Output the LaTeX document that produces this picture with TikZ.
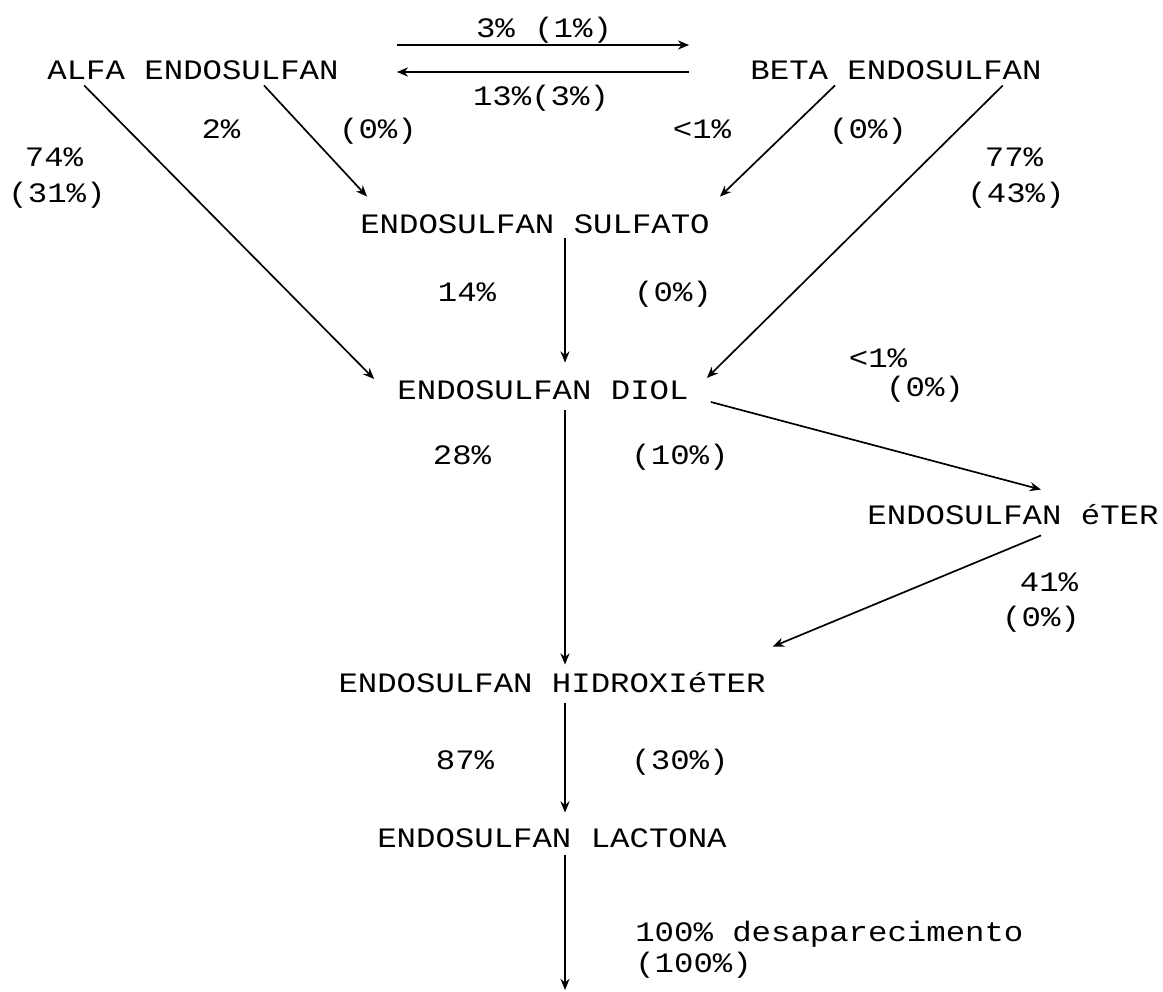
\documentclass[tikz,border=0pt]{standalone}
\usepackage{fontspec}
\setmonofont[FakeStretch=1.15]{Liberation Mono}
\usetikzlibrary{arrows.meta}
\tikzset{
  txt/.style={inner sep=0pt, text height=13pt, text depth=0pt, font=\ttfamily\fontsize{20}{24}\selectfont},
  flow/.style={-{Stealth[length=8pt,width=6.5pt]}, line width=1.2pt}
}
\begin{document}
\begin{tikzpicture}[x=0.025cm, y=-0.025cm]
  \useasboundingbox (0,0) rectangle (1163,992);
  % isomers
  \node[txt] (alfa) at(193,70){ALFA ENDOSULFAN};
  \node[txt] (beta) at(896,70){BETA ENDOSULFAN};
  \node[txt] (p3) at(544,28){3\% (1\%)};
  \node[txt] (p13) at(541,96){13\%(3\%)};
  \draw [flow]([shift={(58,-25)}]alfa.east) -- ([shift={(-61,-25)}]beta.west);
  \draw [flow]([shift={(-61,2)}]beta.west) -- ([shift={(58,2)}]alfa.east);
  % labels row 1
  \node[txt] (p2) at(221,129){2\%};
  \node[txt] (p0a) at(378,129){(0\%)};
  \node[txt] (p74) at(54,157){74\%};
  \node[txt] (p31) at(57,193){(31\%)};
  \node[txt] (p1a) at(702,129){<1\%};
  \node[txt] (p0b) at(868,129){(0\%)};
  \node[txt] (p77) at(1014,157){77\%};
  \node[txt] (p43) at(1016,193){(43\%)};
  % sulfato
  \node[txt] (sulfato) at(535,224){ENDOSULFAN SULFATO};
  \draw [flow]([shift={(71,6)}]alfa.south) -- ([shift={(7,-18)}]sulfato.north west);
  \draw [flow]([shift={(-61,6)}]beta.south) -- ([shift={(10,-18)}]sulfato.north east);
  \node[txt] (p14) at(467,292){14\%};
  \node[txt] (p0c) at(673,292){(0\%)};
  % diol
  \node[txt] (diol) at(543,390){ENDOSULFAN DIOL};
  \draw [flow]([shift={(37,6)}]alfa.south west) -- ([shift={(-23,-11)}]diol.west);
  \draw [flow]([shift={(-39,6)}]beta.south east) -- ([shift={(18,-12)}]diol.east);
  \draw [flow]([shift={(30,5)}]sulfato.south) -- ([shift={(22,-18)}]diol.north);
  \node[txt] (p1b) at(878,358){<1\%};
  \node[txt] (p0d) at(925,387){(0\%)};
  \node[txt] (p28) at(462,455){28\%};
  \node[txt] (p10) at(680,455){(10\%)};
  % eter
  \node[txt] (eter) at(1013,515){ENDOSULFAN éTER};
  \draw [flow]([shift={(22,12)}]diol.east) -- ([shift={(28,-16)}]eter.north);
  \node[txt] (p41) at(1049,582){41\%};
  \node[txt] (p0e) at(1041,617){(0\%)};
  % hidroxieter
  \node[txt] (hidroxi) at(552,683){ENDOSULFAN HIDROXIéTER};
  \draw [flow]([shift={(22,11)}]diol.south) -- ([shift={(13,-9)}]hidroxi.north);
  \draw [flow]([shift={(28,11)}]eter.south) -- ([shift={(7,-27)}]hidroxi.north east);
  \node[txt] (p87) at(465,760){87\%};
  \node[txt] (p30) at(680,760){(30\%)};
  % lactona
  \node[txt] (lactona) at(552,838){ENDOSULFAN LACTONA};
  \draw [flow]([shift={(13,11)}]hidroxi.south) -- ([shift={(13,-16)}]lactona.north);
  \coordinate (fim) at(565,990);
  \draw [flow]([shift={(13,8)}]lactona.south) -- (fim);
  \node[txt,anchor=west] (p100) at(635,932){100\% desaparecimento};
  \node[txt,anchor=west] (p100b) at(635,963){(100\%)};
\end{tikzpicture}
\end{document}
